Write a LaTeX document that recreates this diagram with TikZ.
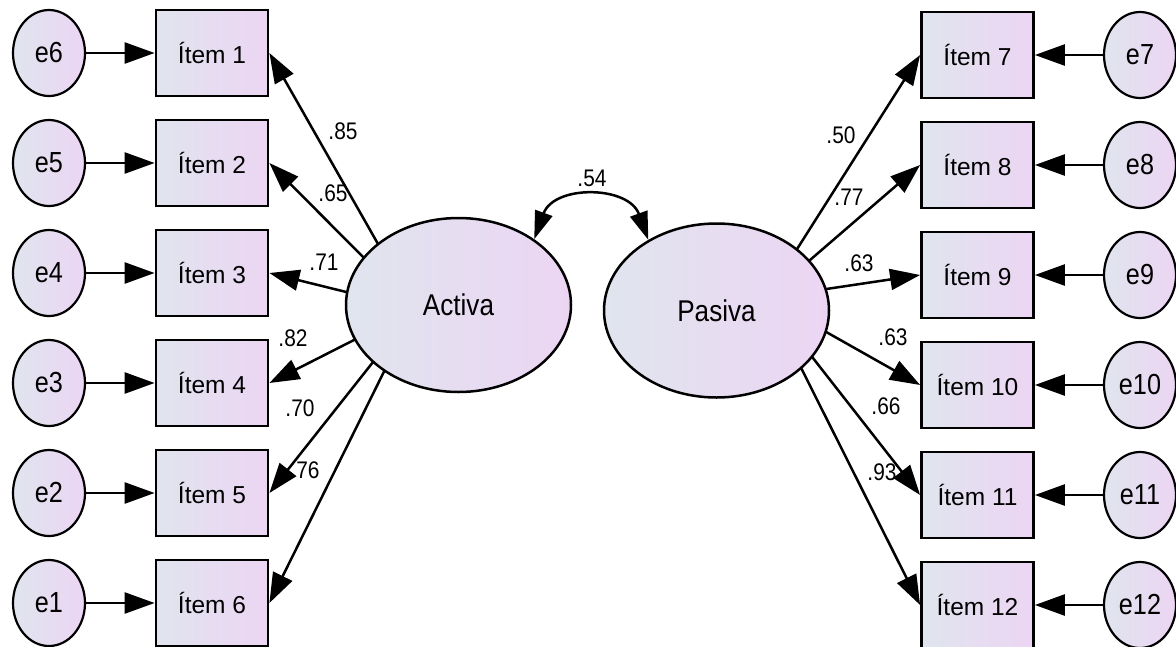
\documentclass[tikz,border=0pt]{standalone}
\usepackage{fontspec}
\setmainfont{Liberation Sans}
\usetikzlibrary{arrows.meta,shapes.geometric}
\pgfdeclarelayer{background}
\pgfsetlayers{background,main}
\definecolor{cA}{RGB}{224,229,238}
\definecolor{cB}{RGB}{236,213,243}
\newcommand\narrowtxt[1]{\scalebox{0.87}[1]{#1}}
\tikzset{
  shadefill/.style={draw=black, left color=cA, right color=cB},
  itembox/.style={shadefill, rectangle, line width=2.8pt, minimum width=112pt, minimum height=86pt, inner sep=0pt, font=\fontsize{24.5}{28}\selectfont},
  errnode/.style={shadefill, ellipse, line width=2.2pt, minimum width=72pt, minimum height=86pt, inner sep=0pt, font=\fontsize{29}{32}\selectfont},
  latent/.style={shadefill, ellipse, line width=2.5pt, minimum width=225pt, minimum height=174pt, inner sep=0pt, font=\fontsize{30}{34}\selectfont},
  arr/.style={line width=2.5pt, -{Triangle[length=30pt,width=21pt]}},
  dblarr/.style={line width=2.5pt, {Triangle[length=28pt,width=18pt]}-{Triangle[length=28pt,width=18pt]}},
  lab/.style={inner sep=0pt, font=\fontsize{24}{26}\selectfont},
}
\begin{document}
\begin{tikzpicture}[x=1pt,y=1pt]
\useasboundingbox (0,0) rectangle (1176,-646);
% latent variables
\node[latent] (act) at (458.5,-305) {\narrowtxt{Activa}};
\node[latent] (pas) at (716.5,-310.5) {\narrowtxt{Pasiva}};
\coordinate (aL) at (415,-309);
\coordinate (aR) at (766,-298);
% left items
\node[itembox] (i1) at (212,-53) {Ítem 1};
\node[itembox] (i2) at (212,-163) {Ítem 2};
\node[itembox] (i3) at (212,-273) {Ítem 3};
\node[itembox] (i4) at (212,-383) {Ítem 4};
\node[itembox] (i5) at (212,-493) {Ítem 5};
\node[itembox] (i6) at (212,-603) {Ítem 6};
% right items
\node[itembox] (i7) at (977.5,-55) {Ítem 7};
\node[itembox] (i8) at (977.5,-165) {Ítem 8};
\node[itembox] (i9) at (977.5,-275) {Ítem 9};
\node[itembox] (i10) at (977.5,-385) {Ítem 10};
\node[itembox] (i11) at (977.5,-495) {Ítem 11};
\node[itembox] (i12) at (977.5,-605) {Ítem 12};
% left errors
\node[errnode] (e6) at (49,-53) {\narrowtxt{e6}};
\node[errnode] (e5) at (49,-163) {\narrowtxt{e5}};
\node[errnode] (e4) at (49,-273) {\narrowtxt{e4}};
\node[errnode] (e3) at (49,-383) {\narrowtxt{e3}};
\node[errnode] (e2) at (49,-493) {\narrowtxt{e2}};
\node[errnode] (e1) at (49,-603) {\narrowtxt{e1}};
% right errors
\node[errnode] (e7) at (1140,-55) {\narrowtxt{e7}};
\node[errnode] (e8) at (1140,-165) {\narrowtxt{e8}};
\node[errnode] (e9) at (1140,-275) {\narrowtxt{e9}};
\node[errnode] (e10) at (1140,-385) {\narrowtxt{e10}};
\node[errnode] (e11) at (1140,-495) {\narrowtxt{e11}};
\node[errnode] (e12) at (1140,-605) {\narrowtxt{e12}};
% error arrows
\foreach \e/\i in {e6/i1,e5/i2,e4/i3,e3/i4,e2/i5,e1/i6,e7/i7,e8/i8,e9/i9,e10/i10,e11/i11,e12/i12}
  \draw[arr] (\e) -- (\i);
% loadings (behind latent ellipses)
\begin{pgfonlayer}{background}
\foreach \i in {i1,i2,i3,i4,i5,i6}
  \draw[arr] (aL) -- (\i.east);
\foreach \i in {i7,i8,i9,i10,i11,i12}
  \draw[arr] (aR) -- (\i.west);
\end{pgfonlayer}
% covariance
\draw[dblarr] (act.41.8) to[out=70,in=110,looseness=1.3] (pas.134.2);
% labels
\node[lab] (l1) at (343,-131) {\narrowtxt{.85}};
\node[lab] (l2) at (333,-193) {\narrowtxt{.65}};
\node[lab] (l3) at (324,-262) {\narrowtxt{.71}};
\node[lab] (l4) at (293,-338) {\narrowtxt{.82}};
\node[lab] (l5) at (300,-408) {\narrowtxt{.70}};
\node[lab] (l6) at (305,-470) {\narrowtxt{.76}};
\node[lab] (l7) at (841,-135) {\narrowtxt{.50}};
\node[lab] (l8) at (849,-197) {\narrowtxt{.77}};
\node[lab] (l9) at (859,-263) {\narrowtxt{.63}};
\node[lab] (l10) at (893,-337) {\narrowtxt{.63}};
\node[lab] (l11) at (886,-406) {\narrowtxt{.66}};
\node[lab] (l12) at (882,-472) {\narrowtxt{.93}};
\node[lab] (l54) at (592,-178) {\narrowtxt{.54}};
\end{tikzpicture}
\end{document}
